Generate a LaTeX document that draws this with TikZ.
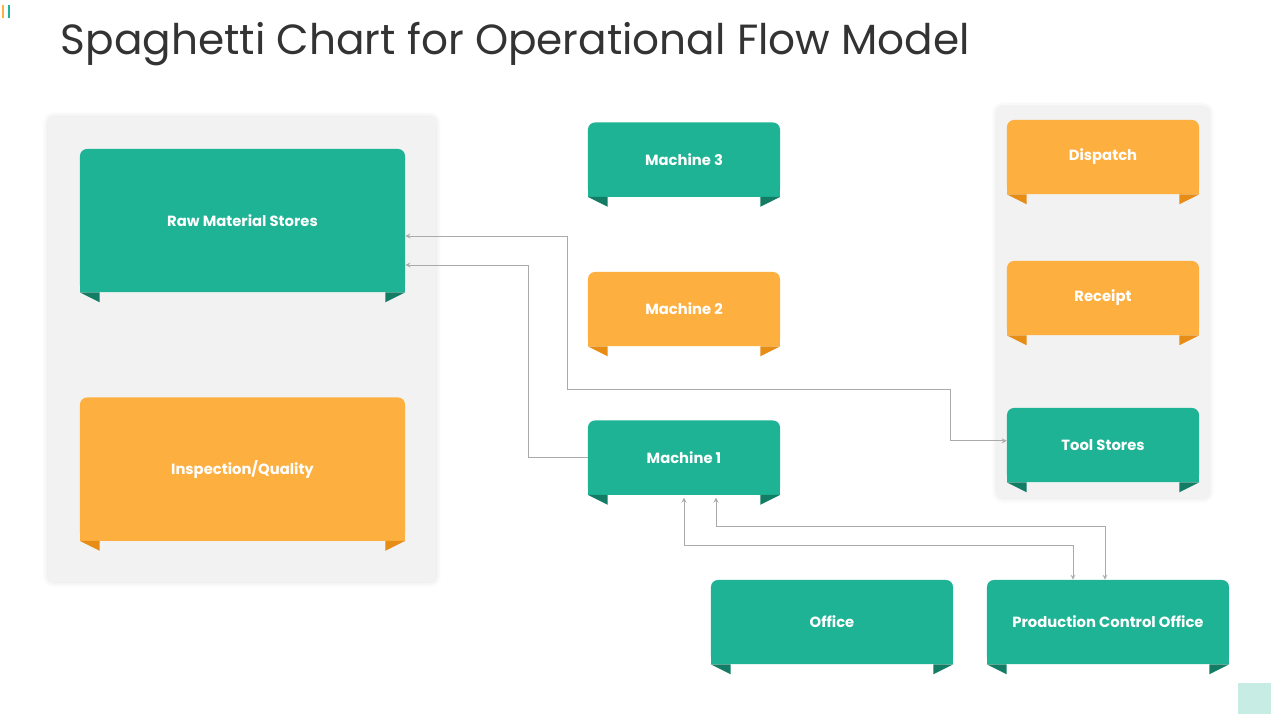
\documentclass[tikz,border=0pt]{standalone}
\usepackage{fontspec}
\setmainfont{Poppins}
\usetikzlibrary{shadows.blur}
\definecolor{vert}{RGB}{29,179,148}
\definecolor{vertf}{RGB}{18,124,100}
\definecolor{orangeb}{RGB}{253,176,64}
\definecolor{orangef}{RGB}{231,140,20}
\definecolor{fond}{RGB}{242,242,242}
\definecolor{fil}{RGB}{170,170,170}
\begin{document}
\begin{tikzpicture}[x=0.025cm,y=-0.025cm]
\tikzstyle{lien}=[->,>=stealth,fil,line width=0.6pt]
\tikzset{poste/.style={fill=#1,rounded corners=5pt,text=white,inner sep=0pt,
font=\fontsize{10.5}{12}\selectfont\bfseries},
poste/.default={vert},
grand/.style={minimum width=8.125cm,minimum height=3.575cm},
moyen/.style={minimum width=4.8cm,minimum height=1.85cm},
large/.style={minimum width=6.05cm,minimum height=2.1cm},
panneau/.style={fill=fond,rounded corners=4pt,blur shadow={shadow xshift=0pt,shadow yshift=0pt,shadow blur radius=4pt,shadow opacity=12}}}
\useasboundingbox (0,0) rectangle (1280,720);
\fill[orangeb] (2,5) rectangle (4,18);
\fill[vert] (8,5) rectangle (10,18);
\fill[vert!25] (1238,683) rectangle (1271,714);
\node[anchor=west,text=black!80,font=\fontsize{30}{36}\selectfont] (titre) at (56,44) {Spaghetti Chart for Operational Flow Model};

\fill[panneau] (48,117) rectangle (436,582);
\fill[panneau] (997,107) rectangle (1209,498);

\node[poste,grand] (RM) at (242.5,220.5) {Raw Material Stores};
\node[poste=orangeb,grand] (IQ) at (242.5,469) {Inspection/Quality};
\node[poste,moyen] (M3) at (684,159.5) {Machine 3};
\node[poste=orangeb,moyen] (M2) at (684,309) {Machine 2};
\node[poste,moyen] (M1) at (684,457.5) {Machine 1};
\node[poste=orangeb,moyen] (DI) at (1103,157) {Dispatch};
\node[poste=orangeb,moyen] (RE) at (1103,298) {Receipt};
\node[poste,moyen] (TS) at (1103,445) {Tool Stores};
\node[poste,large] (OF) at (832,622) {Office};
\node[poste,large] (PC) at (1108,622) {Production Control Office};

\foreach \n/\c/\f in {RM/vert/vertf,IQ/orangeb/orangef,M3/vert/vertf,M2/orangeb/orangef,M1/vert/vertf,DI/orangeb/orangef,RE/orangeb/orangef,TS/vert/vertf,OF/vert/vertf,PC/vert/vertf}{
\fill[\c] (\n.south west) rectangle ([yshift=6pt]\n.south east);
\fill[\f] (\n.south west) -- ++(20,0) -- ++(0,10) -- cycle;
\fill[\f] (\n.south east) -- ++(-20,0) -- ++(0,10) -- cycle;
}

\coordinate (c1) at (528,265);
\coordinate (c2) at (567,236);
\coordinate (c3) at (950,389);
\coordinate (c4) at (1073,545);
\coordinate (c5) at (716,526);
\coordinate (c6) at (1105,526);
\draw[lien] (M1.west) -| (c1) -- (c1 -| RM.east);
\draw[lien,<->] (c2 -| RM.east) -- (c2) |- (c3) |- ([yshift=3pt]TS.west);
\draw[lien,<->] ([yshift=-2pt]M1.south) |- (c4) -- (c4 |- PC.north);
\draw[lien,<->] ([yshift=-2pt]M1.south -| c5) -- (c5) -- (c6) -- (c6 |- PC.north);

\end{tikzpicture}
\end{document}
